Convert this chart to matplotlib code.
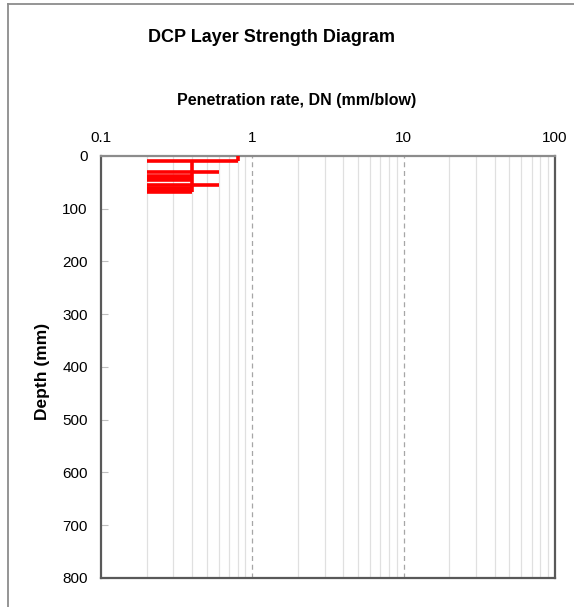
import numpy as np
import matplotlib.pyplot as plt
from matplotlib.lines import Line2D
from matplotlib.ticker import FixedLocator, NullFormatter

plt.rcParams['font.family'] = ['Liberation Sans', 'DejaVu Sans']

# layer readings: depth (mm) and penetration rate DN (mm/blow)
dn_base = 0.2
layer_depth = [10, 31, 37, 41, 46, 55, 61, 65, 69]
layer_dn = [0.8, 0.6, 0.4, 0.4, 0.4, 0.6, 0.4, 0.4, 0.4]

# vertical connectors: (dn, top depth, bottom depth)
conn_dn = [0.8, 0.4]
conn_top = [0, 10]
conn_bot = [10, 69]

x_ticks = [0.1, 1, 10, 100]
x_tick_labels = ['0.1', '1', '10', '100']
y_ticks = [0, 100, 200, 300, 400, 500, 600, 700, 800]

fig = plt.figure(figsize=(5.74, 6.07), dpi=100)
ax = fig.add_axes([0.176, 0.048, 0.791, 0.695])

ax.set_xscale('log')
ax.set_xlim(0.1, 100)
ax.set_ylim(800, 0)

# minor grid solid, decade lines dashed
minors = [m * d for d in (0.1, 1, 10) for m in range(2, 10)]
for xv in minors:
    ax.axvline(xv, color='#e0e0e0', lw=0.9, zorder=1)
for xv in (1, 10):
    ax.axvline(xv, color='#a6a6a6', lw=0.9, ls=(0, (4, 3)), zorder=1)

ax.hlines(layer_depth, dn_base, layer_dn, color='#ff0000', lw=2.6, zorder=3)
ax.vlines(conn_dn, conn_top, conn_bot, color='#ff0000', lw=2.6, zorder=3)

ax.xaxis.tick_top()
ax.xaxis.set_major_locator(FixedLocator(x_ticks))
ax.set_xticklabels(x_tick_labels)
ax.xaxis.set_minor_formatter(NullFormatter())
ax.tick_params(axis='x', which='both', length=0, pad=8, labelsize=11)
ax.set_yticks(y_ticks)
ax.tick_params(axis='y', direction='in', length=5, width=0.8, color='#bfbfbf',
               pad=9.5, labelsize=11)

for side, sp in ax.spines.items():
    sp.set_color('#595959')
    sp.set_linewidth(1.6)
ax.spines['top'].set_color('#8c8c8c')

fig.text(272 / 574, 1 - 37 / 607, 'DCP Layer Strength Diagram', ha='center', va='center',
         fontsize=13, fontweight='bold')
fig.text(297 / 574, 1 - 100 / 607, 'Penetration rate, DN (mm/blow)', ha='center', va='center',
         fontsize=11.5, fontweight='bold')
fig.text(42 / 574, 1 - 371 / 607, 'Depth (mm)', ha='center', va='center', rotation=90,
         fontsize=12.5, fontweight='bold')

# outer chart border
fig.add_artist(Line2D([8 / 574, 8 / 574], [0, 1 - 4 / 607], transform=fig.transFigure,
                      color='#8c8c8c', lw=1.3))
fig.add_artist(Line2D([8 / 574, 1], [1 - 4 / 607, 1 - 4 / 607], transform=fig.transFigure,
                      color='#8c8c8c', lw=1.3))

fig.savefig('out.png', dpi=100)
